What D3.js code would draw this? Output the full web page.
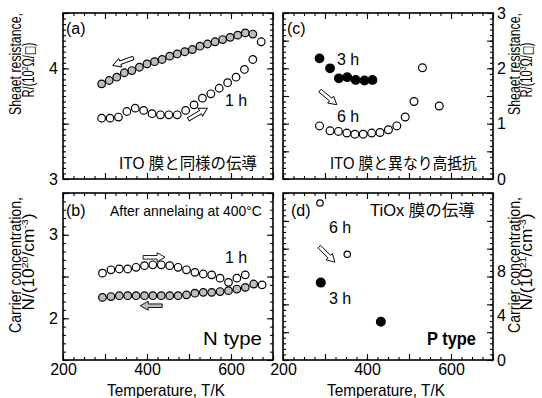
<!DOCTYPE html>
<html>
<head>
<meta charset="utf-8">
<script src="https://cdn.jsdelivr.net/npm/d3@7/dist/d3.min.js"></script>
<style>
  html, body { margin: 0; padding: 0; background: #fff; }
  svg { display: block; }
  text { font-family: "Liberation Sans", Arial, sans-serif; fill: #000; }
  .jp { font-family: "Liberation Sans", "Noto Sans CJK JP", sans-serif; }
</style>
</head>
<body>
<svg id="chart" width="542" height="398"></svg>
<script>
// ---- data ----
// (a) sheet resistance of the 1 h film, heating (open) and cooling (grey)
const tempA_heat = [292, 312, 332, 352, 372, 392, 412, 432, 452, 472, 492, 512, 532, 552, 572, 592, 612, 632, 652, 672];
const resA_heat  = [3.55, 3.55, 3.56, 3.61, 3.64, 3.62, 3.59, 3.58, 3.58, 3.58, 3.62, 3.67, 3.73, 3.77, 3.82, 3.87, 3.92, 3.99, 4.08, 4.24];
const tempA_cool = [292, 310, 328, 346, 364, 382, 400, 418, 436, 454, 472, 490, 508, 526, 544, 562, 580, 598, 616, 634, 652];
const resA_cool  = [3.86, 3.89, 3.92, 3.96, 3.98, 4.01, 4.04, 4.06, 4.08, 4.11, 4.13, 4.15, 4.17, 4.20, 4.22, 4.24, 4.26, 4.28, 4.30, 4.32, 4.31];

// (b) carrier concentration of the 1 h film
const tempB_heat = [294, 314, 334, 354, 374, 394, 414, 434, 454, 474, 494, 514, 534, 554, 574, 594, 614, 634, 674];
const concB_heat = [2.54, 2.58, 2.59, 2.59, 2.61, 2.63, 2.64, 2.64, 2.63, 2.61, 2.58, 2.55, 2.53, 2.52, 2.48, 2.43, 2.48, 2.52, 2.40];
const tempB_cool = [294, 314, 334, 354, 374, 394, 414, 434, 454, 474, 494, 514, 534, 554, 574, 594, 614, 634, 654];
const concB_cool = [2.25, 2.26, 2.27, 2.27, 2.27, 2.27, 2.27, 2.27, 2.27, 2.27, 2.28, 2.30, 2.31, 2.31, 2.32, 2.33, 2.35, 2.37, 2.41];

// (c) sheet resistance of the 3 h and 6 h films
const tempC_3h = [287, 312, 333, 353, 373, 394, 413];
const resC_3h  = [2.18, 2.00, 1.82, 1.84, 1.79, 1.78, 1.79];
const tempC_6h = [287, 312, 332, 352, 371, 391, 411, 431, 451, 471, 491, 512, 532, 572];
const resC_6h  = [0.96, 0.87, 0.86, 0.83, 0.81, 0.81, 0.83, 0.84, 0.89, 0.96, 1.12, 1.40, 2.01, 1.32];

// (d) carrier concentration of the 3 h and 6 h films
const tempD_6h = [288, 353];
const concD_6h = [14.1, 9.5];
const tempD_3h = [290, 433];
const concD_3h = [6.95, 3.44];

// tick labels
const tempLabels = [200, 400, 600];
const resA_labels = [3, 4];
const concB_labels = [2, 3];
const resC_labels = [0, 1, 2, 3];
const concD_labels = [0, 4, 8];

// ---- layout ----
const svg = d3.select("#chart");
const colL = [63, 273], colR = [283, 493];
const rowT = [179, 13], rowB = [360, 193];
const GREY = "#bdbdbd";

const xL = d3.scaleLinear().domain([200, 700]).range(colL);
const xR = d3.scaleLinear().domain([200, 700]).range(colR);
const yA = d3.scaleLinear().domain([3, 4.5]).range(rowT);
const yB = d3.scaleLinear().domain([1.5, 3.5]).range(rowB);
const yC = d3.scaleLinear().domain([0, 3]).range(rowT);
const yD = d3.scaleLinear().domain([0, 15]).range(rowB);

const rangeStep = (a, b, s) => d3.range(Math.round((b - a) / s) + 1).map(i => +(a + i * s).toFixed(4));

// inward tick marks on one side of a frame
function tickSide(scale, orient, pos, values, size) {
  const make = { bottom: d3.axisBottom, top: d3.axisTop, left: d3.axisLeft, right: d3.axisRight }[orient];
  const axis = make(scale).tickValues(values).tickSizeInner(-size).tickSizeOuter(0).tickFormat("");
  const t = (orient === "bottom" || orient === "top") ? `translate(0,${pos})` : `translate(${pos},0)`;
  svg.append("g").attr("transform", t).call(axis)
    .call(g => g.select(".domain").remove())
    .call(g => g.selectAll("line").attr("stroke", "#000").attr("stroke-width", 1.1));
}

// tick labels along one side
function labelSide(scale, orient, pos, values, pad) {
  const make = { bottom: d3.axisBottom, left: d3.axisLeft, right: d3.axisRight }[orient];
  const axis = make(scale).tickValues(values).tickSize(0).tickPadding(pad).tickFormat(d3.format("d"));
  const t = orient === "bottom" ? `translate(0,${pos})` : `translate(${pos},0)`;
  svg.append("g").attr("transform", t).call(axis)
    .call(g => g.select(".domain").remove())
    .call(g => g.selectAll("text").attr("font-size", 16)
      .attr("font-family", "'Liberation Sans', Arial, sans-serif").attr("fill", "#000"));
}

function panel(x, y, yMinor, yMajor) {
  const [x0, x1] = x.range(), [y0, y1] = y.range();
  const xMinor = rangeStep(200, 700, 25), xMajor = rangeStep(200, 700, 100);
  tickSide(x, "bottom", y0, xMinor, 3); tickSide(x, "bottom", y0, xMajor, 6);
  tickSide(x, "top", y1, xMinor, 3);    tickSide(x, "top", y1, xMajor, 6);
  tickSide(y, "left", x0, yMinor, 3);   tickSide(y, "left", x0, yMajor, 6);
  tickSide(y, "right", x1, yMinor, 3);  tickSide(y, "right", x1, yMajor, 6);
  svg.append("rect").attr("x", x0).attr("y", y1).attr("width", x1 - x0).attr("height", y0 - y1)
    .attr("fill", "none").attr("stroke", "#000").attr("stroke-width", 1.6);
}

function points(x, y, ts, vs, r, fill) {
  svg.append("g").selectAll("circle").data(ts.map((t, i) => [t, vs[i]])).join("circle")
    .attr("cx", d => x(d[0])).attr("cy", d => y(d[1])).attr("r", r)
    .attr("fill", fill).attr("stroke", "#000").attr("stroke-width", 1.2);
}

// hollow block arrow centred on a data position, rotated to angle (degrees, screen)
function arrow(x, y, t, v, angle, fill) {
  svg.append("path")
    .attr("d", "M-11,-1.8 L3,-1.8 L3,-4.5 L11,0 L3,4.5 L3,1.8 L-11,1.8 Z")
    .attr("transform", `translate(${x(t)},${y(v)}) rotate(${angle})`)
    .attr("fill", fill).attr("stroke", "#000").attr("stroke-width", 0.9).attr("stroke-linejoin", "miter");
}

// text squeezed or stretched horizontally to a given width
function label(txt, x, y, size, opts = {}) {
  const t = svg.append("text").attr("font-size", size).text(txt);
  if (opts.bold) t.attr("font-weight", "bold");
  if (opts.jp) t.attr("class", "jp");
  const sx = opts.len ? opts.len / t.node().getComputedTextLength() : 1;
  t.attr("transform", `translate(${x},${y}) scale(${sx},1)`);
  return t;
}

// rotated axis title made of parts; sup parts are raised and smaller
function vtitle(parts, bx, cy, size, len) {
  const t = svg.append("text").attr("text-anchor", "middle").attr("font-size", size);
  parts.forEach(p => {
    const s = t.append("tspan").text(p.t);
    if (p.sup) s.attr("font-size", size * 0.62).attr("dy", p.dy != null ? p.dy : -size * 0.38);
    else if (p.dy != null) s.attr("dy", p.dy);
    if (p.box) s.attr("font-family", "'DejaVu Sans', sans-serif").attr("font-size", size * 0.85);
  });
  const sx = len ? len / t.node().getComputedTextLength() : 1;
  t.attr("transform", `translate(${bx},${cy}) rotate(-90) scale(${sx},1)`);
}

// ---- panels ----
panel(xL, yA, rangeStep(3, 4.5, 0.05), rangeStep(3, 4.5, 0.5));
panel(xL, yB, rangeStep(1.5, 3.5, 0.1), rangeStep(1.5, 3.5, 0.5));
panel(xR, yC, rangeStep(0, 3, 0.1), rangeStep(0, 3, 0.5));
panel(xR, yD, rangeStep(0, 15, 0.5), rangeStep(0, 15, 2.5));

labelSide(yA, "left", colL[0], resA_labels, 5);
labelSide(yB, "left", colL[0], concB_labels, 5);
labelSide(yC, "right", colR[1], resC_labels, 4);
labelSide(yD, "right", colR[1], concD_labels, 4);
labelSide(xL, "bottom", rowB[0], tempLabels, 4);
labelSide(xR, "bottom", rowB[0], tempLabels, 4);

// ---- marks ----
points(xL, yA, tempA_cool, resA_cool, 3.8, GREY);
points(xL, yA, tempA_heat, resA_heat, 3.8, "#fff");
points(xL, yB, tempB_heat, concB_heat, 3.8, "#fff");
points(xL, yB, tempB_cool, concB_cool, 3.8, GREY);
points(xR, yC, tempC_6h, resC_6h, 3.9, "#fff");
points(xR, yC, tempC_3h, resC_3h, 4.3, "#000");
points(xR, yD, tempD_6h, concD_6h, 3.2, "#fff");
points(xR, yD, tempD_3h, concD_3h, 4.4, "#000");

// ---- arrows ----
arrow(xL, yA, 343, 4.06, 160, "#fff");
arrow(xL, yA, 521, 3.59, -30, "#fff");
arrow(xL, yB, 417, 2.73, 0, "#fff");
arrow(xL, yB, 410, 2.15, 180, GREY);
arrow(xR, yC, 308, 1.47, 40, "#fff");
arrow(xR, yD, 305, 9.48, 45, "#fff");

// ---- annotations ----
label("(a)", 66, 34, 16);
label("1 h", 225, 106, 16);
label("ITO 膜と同様の伝導", 119, 169, 16, { len: 138, jp: true });
label("(b)", 66, 216, 16);
label("After annelaing at 400°C", 110, 216, 14, { len: 152 });
label("1 h", 225, 263, 16);
label("N type", 203, 345, 18, { len: 59 });
label("(c)", 287, 34, 16);
label("3 h", 337, 65, 16);
label("6 h", 337, 122, 16);
label("ITO 膜と異なり高抵抗", 330, 169, 16, { len: 147, jp: true });
label("(d)", 291, 216, 16);
label("TiOx 膜の伝導", 370, 216, 16, { len: 105, jp: true });
label("6 h", 329, 233, 16);
label("3 h", 329, 304, 16);
label("P type", 427, 345, 18, { len: 49, bold: true });

// ---- axis titles ----
[colL, colR].forEach(c => {
  label("Temperature, T/K", c[0] + 44, 396, 16, { len: 118 });
});

const up = -16 * 0.38, down = 16 * 0.38;
vtitle([{ t: "Sheaet resistance," }], 21, 64, 16, 102);
vtitle([{ t: "R/(10" }, { t: "2", sup: true }, { t: "Ω/", dy: down }, { t: "□", box: true }, { t: ")" }], 34, 70, 16, 55);
vtitle([{ t: "Carrier concentration," }], 21, 265, 16, 136);
vtitle([{ t: "N/(10" }, { t: "20", sup: true }, { t: "/cm", dy: down }, { t: "-3", sup: true }, { t: ")", dy: down }], 34, 262, 16, 97);

vtitle([{ t: "Sheaet resistance," }], 520, 64, 16, 102);
vtitle([{ t: "R/(10" }, { t: "3", sup: true }, { t: "Ω/", dy: down }, { t: "□", box: true }, { t: ")" }], 532, 70, 16, 55);
vtitle([{ t: "Carrier concentration," }], 520, 265, 16, 136);
vtitle([{ t: "N/(10" }, { t: "21", sup: true }, { t: "/cm", dy: down }, { t: "-3", sup: true }, { t: ")", dy: down }], 532, 262, 16, 97);
</script>
</body>
</html>
